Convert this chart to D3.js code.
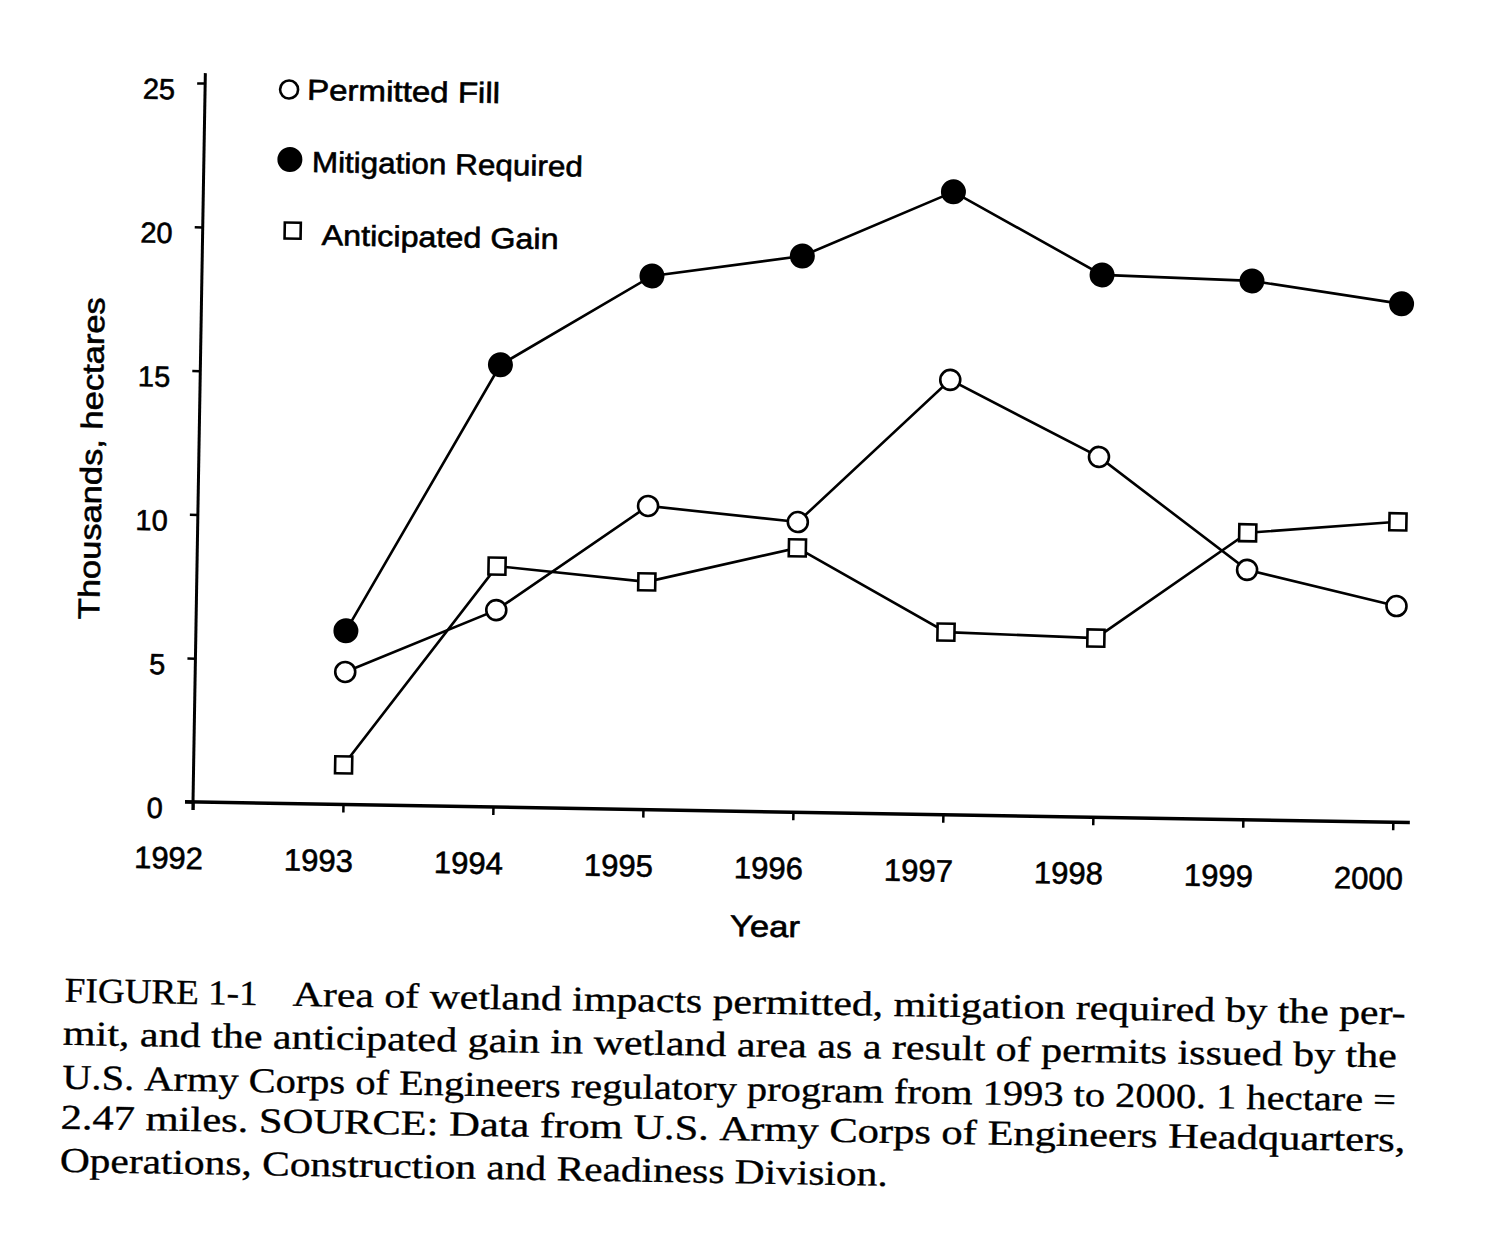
<!DOCTYPE html>
<html>
<head>
<meta charset="utf-8">
<script src="https://cdn.jsdelivr.net/npm/d3@7"></script>
<style>
  body { margin: 0; background: #fff; }
  .chart-text { font-family: "Liberation Sans", Arial, sans-serif; fill: #000; stroke: #000; stroke-width: 0.6px; }
  .caption { font-family: "Liberation Serif", "Times New Roman", serif; fill: #000; stroke: #000; stroke-width: 0.35px; font-size: 35px; }
</style>
</head>
<body>
<div id="chart"></div>
<script>
// DATA (thousands of hectares)
var years = [1993, 1994, 1995, 1996, 1997, 1998, 1999, 2000]
var permittedFill = [4.61, 6.85, 10.56, 10.09, 15.12, 12.53, 8.69, 7.52]
var mitigationRequired = [6.04, 15.38, 18.56, 19.34, 21.66, 18.86, 18.74, 18.03]
var anticipatedGain = [1.38, 8.38, 7.92, 9.19, 6.35, 6.23, 9.98, 10.45]

var xTicks = [1992, 1993, 1994, 1995, 1996, 1997, 1998, 1999, 2000]
var yTicks = [0, 5, 10, 15, 20, 25]
var seriesNames = ["Permitted Fill", "Mitigation Required", "Anticipated Gain"]

var captionLead = "FIGURE 1-1"
var captionLines = [
  "Area of wetland impacts permitted, mitigation required by the per-",
  "mit, and the anticipated gain in wetland area as a result of permits issued by the",
  "U.S. Army Corps of Engineers regulatory program from 1993 to 2000. 1 hectare =",
  "2.47 miles. SOURCE: Data from U.S. Army Corps of Engineers Headquarters,",
  "Operations, Construction and Readiness Division."
]

var series = [
  { name: seriesNames[0], values: permittedFill, marker: "open" },
  { name: seriesNames[1], values: mitigationRequired, marker: "filled" },
  { name: seriesNames[2], values: anticipatedGain, marker: "square" }
]

// LAYOUT
var width = 1505, height = 1246
var origin = { x: 193, y: 802 }
var tilt = 0.97 // the page was scanned slightly crooked

var svg = d3.select("#chart").append("svg")
  .attr("width", width)
  .attr("height", height)
  .style("background", "#fff")

svg.append("rect").attr("width", width).attr("height", height).attr("fill", "#fff")

var g = svg.append("g")
  .attr("transform", "rotate(" + tilt + "," + origin.x + "," + origin.y + ")")

var xScale = d3.scaleLinear().domain([1992, 2000]).range([origin.x, origin.x + 1200])
var yScale = d3.scaleLinear().domain([0, 25]).range([origin.y, origin.y - 719])

// AXES
var xAxis = d3.axisBottom(xScale).tickValues(xTicks).tickFormat(d3.format("d"))
  .tickSizeInner(8).tickSizeOuter(0)
var yAxis = d3.axisLeft(yScale).tickValues(yTicks).tickFormat(d3.format("d"))
  .tickSizeInner(8).tickSizeOuter(0)

g.append("g")
  .attr("transform", "translate(0," + origin.y + ")")
  .call(xAxis)
  .call(function(a) {
    a.select(".domain").remove()
    a.selectAll("line").attr("stroke", "#000").attr("stroke-width", 2.5)
    a.selectAll("text")
      .attr("class", "chart-text")
      .attr("y", 67).attr("dy", 0).attr("dx", -24)
      .style("font-size", "31px")
  })

g.append("g")
  .attr("transform", "translate(" + origin.x + ",0)")
  .call(yAxis)
  .call(function(a) {
    a.select(".domain").remove()
    a.selectAll("line").attr("stroke", "#000").attr("stroke-width", 2.5)
    a.selectAll("text")
      .attr("class", "chart-text")
      .attr("x", -30).attr("y", 6).attr("dy", "0.35em")
      .style("font-size", "29px")
  })

// axis lines
g.append("line")
  .attr("x1", xScale(1992) - 8).attr("x2", xScale(2000) + 17)
  .attr("y1", origin.y).attr("y2", origin.y)
  .attr("stroke", "#000").attr("stroke-width", 3.5)
g.append("line")
  .attr("x1", origin.x).attr("x2", origin.x)
  .attr("y1", origin.y + 8).attr("y2", yScale(25) - 10)
  .attr("stroke", "#000").attr("stroke-width", 3)

// axis titles
g.append("text")
  .attr("class", "chart-text")
  .attr("x", 767).attr("y", 927)
  .attr("text-anchor", "middle")
  .attr("textLength", 70).attr("lengthAdjust", "spacingAndGlyphs")
  .style("font-size", "30px")
  .text("Year")

g.append("text")
  .attr("class", "chart-text")
  .attr("transform", "translate(96,460) rotate(-90)")
  .attr("text-anchor", "middle")
  .attr("textLength", 322).attr("lengthAdjust", "spacingAndGlyphs")
  .style("font-size", "30px")
  .text("Thousands, hectares")

// LINES AND MARKERS
var line = d3.line()
  .x(function(d, i) { return xScale(years[i]) })
  .y(function(d) { return yScale(d) })

function drawMarker(sel, type, x, y, small) {
  if (type == "square") {
    var s = small ? 16 : 17
    sel.append("rect")
      .attr("x", x - s / 2).attr("y", y - s / 2)
      .attr("width", s).attr("height", s)
      .attr("fill", "#fff").attr("stroke", "#000").attr("stroke-width", 2.6)
  } else if (type == "filled") {
    sel.append("circle")
      .attr("cx", x).attr("cy", y).attr("r", 12.5)
      .attr("fill", "#000")
  } else {
    sel.append("circle")
      .attr("cx", x).attr("cy", y).attr("r", small ? 9 : 10)
      .attr("fill", "#fff").attr("stroke", "#000").attr("stroke-width", 2.6)
  }
}

series.forEach(function(s) {
  g.append("path")
    .datum(s.values)
    .attr("d", line)
    .attr("fill", "none")
    .attr("stroke", "#000")
    .attr("stroke-width", 2.6)
})

series.forEach(function(s) {
  var mg = g.append("g")
  s.values.forEach(function(v, i) {
    drawMarker(mg, s.marker, xScale(years[i]), yScale(v), false)
  })
})

// LEGEND
var legendLayout = [
  { mx: 277, my: 88, tx: 295, ty: 98, len: 193 },
  { mx: 279, my: 158, tx: 301, ty: 170, len: 271 },
  { mx: 283, my: 229, tx: 312, ty: 243, len: 237 }
]

series.forEach(function(s, i) {
  var l = legendLayout[i]
  drawMarker(g, s.marker, l.mx, l.my, true)
  g.append("text")
    .attr("class", "chart-text")
    .attr("x", l.tx).attr("y", l.ty)
    .attr("textLength", l.len).attr("lengthAdjust", "spacingAndGlyphs")
    .style("font-size", "29px")
    .text(s.name)
})

// CAPTION - set word by word so each line is justified like the printed page
var captionLayout = [
  { text: captionLead, x: 68, y: 1004, len: 193 },
  { text: captionLines[0], x: 296, y: 1004, len: 1113 },
  { text: captionLines[1], x: 67, y: 1047, len: 1334 },
  { text: captionLines[2], x: 67, y: 1091, len: 1334 },
  { text: captionLines[3], x: 66, y: 1131, len: 1345 },
  { text: captionLines[4], x: 66, y: 1174, len: 828 }
]

var probe = g.append("text").attr("class", "caption")
function measure(t) {
  probe.text(t)
  return probe.node().getComputedTextLength()
}
var spaceW = measure("a a") - measure("aa")

captionLayout.forEach(function(c) {
  var words = c.text.split(" ")
  var widths = words.map(measure)
  var natural = d3.sum(widths) + spaceW * (words.length - 1)
  var k = c.len / natural
  var x = c.x
  words.forEach(function(w, j) {
    g.append("text")
      .attr("class", "caption")
      .attr("x", x).attr("y", c.y)
      .attr("textLength", widths[j] * k).attr("lengthAdjust", "spacingAndGlyphs")
      .text(w)
    x += (widths[j] + spaceW) * k
  })
})
probe.remove()
</script>
</body>
</html>
